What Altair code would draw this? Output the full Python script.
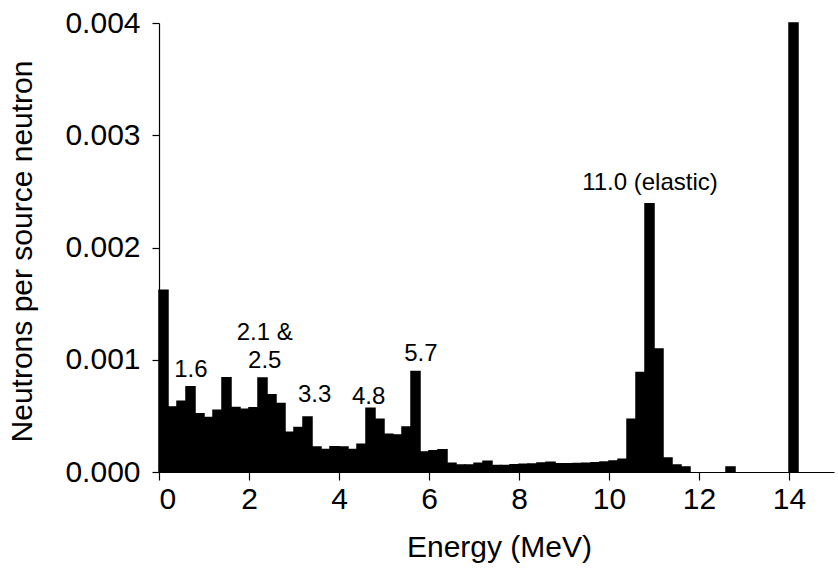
import altair as alt
import pandas as pd

# Energy bins are 0.2 MeV wide, starting at 0 MeV
bin_width = 0.2
# Neutrons per source neutron for each 0.2 MeV bin (units of 1e-3)
flux_e3 = [
    1.62, 0.58, 0.63, 0.76, 0.52, 0.485, 0.55, 0.84, 0.574, 0.56,
    0.572, 0.838, 0.688, 0.61, 0.355, 0.396, 0.49, 0.223, 0.20, 0.226,
    0.223, 0.20, 0.247, 0.569, 0.47, 0.336, 0.33, 0.40, 0.896, 0.179,
    0.19, 0.198, 0.077, 0.062, 0.062, 0.077, 0.095, 0.057, 0.057, 0.065,
    0.068, 0.071, 0.080, 0.086, 0.074, 0.074, 0.075, 0.078, 0.083, 0.088,
    0.098, 0.113, 0.47, 0.887, 2.39, 1.095, 0.125, 0.0625, 0.045, 0.0,
    0.0, 0.0, 0.0, 0.045, 0.0, 0.0, 0.0, 0.0, 0.0, 0.0,
    4.0,
]

x_ticks = [0, 2, 4, 6, 8, 10, 12, 14]
y_ticks = [0.0, 0.001, 0.002, 0.003, 0.004]

label_text = ["1.6", "2.1 &", "2.5", "3.3", "4.8", "5.7", "11.0 (elastic)"]
label_x = [0.71, 2.35, 2.35, 3.46, 4.66, 5.82, 10.91]
label_y = [0.00085, 0.00118, 0.00093, 0.00062, 0.00061, 0.00099, 0.00251]

rows = []
for i, v in enumerate(flux_e3):
    if v > 0:
        rows.append({"lo": round(i * bin_width, 2), "hi": round((i + 1) * bin_width, 2), "v": v / 1000.0})
bars_df = pd.DataFrame(rows)
labels_df = pd.DataFrame({"t": label_text, "x": label_x, "y": label_y})

FONT = "Liberation Sans"

bars = alt.Chart(bars_df).mark_rect(color="black", stroke="black", strokeWidth=1.5).encode(
    x=alt.X(
        "lo:Q",
        scale=alt.Scale(domain=[0, 15], nice=False, zero=False),
        axis=alt.Axis(
            values=x_ticks, title="Energy (MeV)", format="d",
            tickSize=8, labelPadding=4,
            titleBaseline="alphabetic", titleY=84, titleX=340,
        ),
    ),
    x2="hi:Q",
    y=alt.Y(
        "v:Q",
        scale=alt.Scale(domain=[0, 0.004], nice=False),
        axis=alt.Axis(
            values=y_ticks, format=".3f", title="Neutrons per source neutron",
            tickSize=7, labelPadding=12,
            titleAngle=270, titleBaseline="alphabetic", titleAlign="center",
            titleX=-128, titleY=228,
        ),
    ),
    y2=alt.datum(0),
)

labels = alt.Chart(labels_df).mark_text(
    font=FONT, fontSize=24, color="black", align="center", baseline="alphabetic"
).encode(
    x="x:Q",
    y="y:Q",
    text="t:N",
)

chart = (
    alt.layer(bars, labels)
    .properties(
        width=675,
        height=449,
        autosize=alt.AutoSizeParams(type="none"),
        padding={"left": 159, "top": 23, "right": 4, "bottom": 97},
    )
    .configure_view(stroke=None)
    .configure_axis(
        grid=False,
        domainColor="black",
        tickColor="black",
        labelColor="black",
        titleColor="black",
        labelFont=FONT,
        titleFont=FONT,
        labelFontSize=30,
        titleFontSize=30,
        titleFontWeight="normal",
        domainWidth=1.2,
        tickWidth=1.2,
    )
)

chart.save("out.html", embed_options={"renderer": "svg", "actions": False})
